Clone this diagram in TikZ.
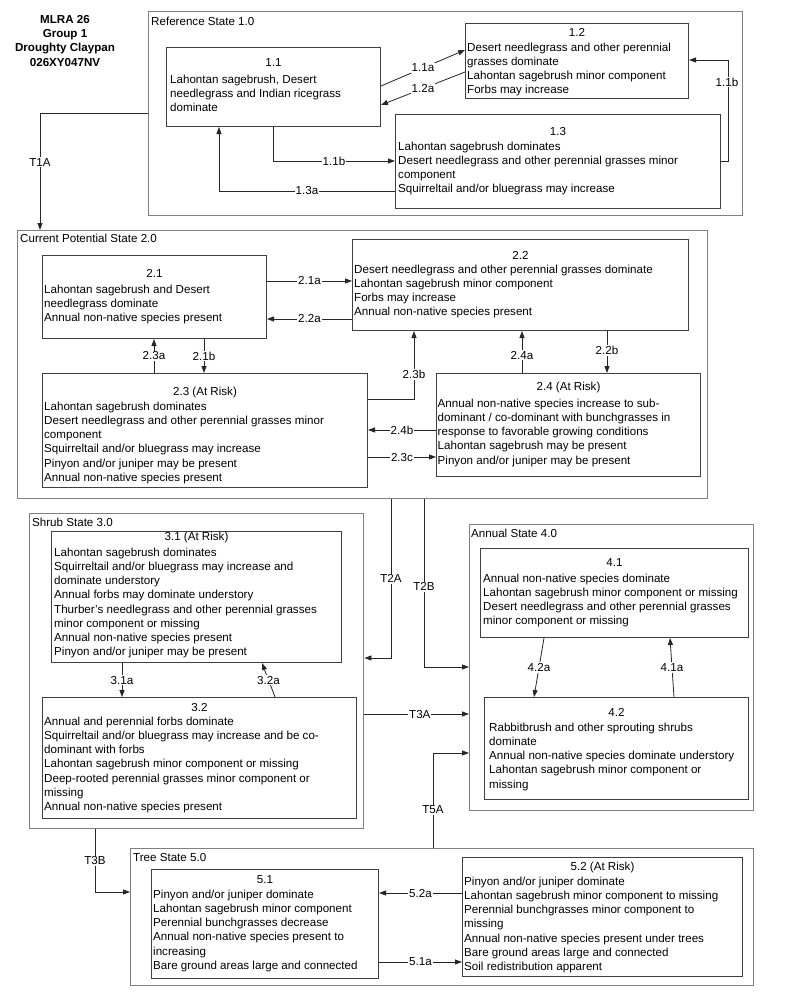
\documentclass[tikz,border=0pt]{standalone}
\usepackage{fontspec}
\setmainfont{Liberation Sans}
\usetikzlibrary{arrows.meta,calc}
\newcommand\sbx[5]{\node[sbox, minimum width={#4-#2}, minimum height={#5-#3}] (#1) at (#2,#3) {};}
\newcommand\obx[5]{\node[obox, minimum width={#4-#2}, minimum height={#5-#3}] (#1) at (#2,#3) {};}
\begin{document}
\begin{tikzpicture}[x=1pt,y=-1pt,
  font=\fontsize{11.6}{14.2}\selectfont,
  obox/.style={draw=black!50, line width=1.4pt, anchor=north west, inner sep=0pt},
  sbox/.style={draw=black!75, line width=1pt, anchor=north west, inner sep=0pt},
  ttl/.style={inner sep=0pt, anchor=center},
  body/.style={inner sep=0pt, anchor=north west, align=left},
  stl/.style={inner sep=0pt, anchor=base west},
  lbl/.style={fill=white, inner sep=1pt},
  arr/.style={draw=black!85, line width=0.8pt, -{Triangle[length=7pt,width=5pt]}},
  ln/.style={draw=black!85, line width=0.8pt}]
\useasboundingbox[fill=white] (0,0) rectangle (800,1002);

% heading
\node[inner sep=0pt, align=center, font=\fontsize{11.6}{14.3}\selectfont\bfseries, anchor=north] (head) at (65,15) {MLRA 26\\Group 1\\Droughty Claypan\\026XY047NV};

% outer state boxes
\obx{o1}{148}{11}{742}{215}
\obx{o2}{17}{230}{707}{498}
\obx{o3}{29}{513}{363}{828}
\obx{o4}{469}{524}{753}{810}
\obx{o5}{130}{848}{753}{985}
\node[stl] (o1l) at (151,25) {Reference State 1.0};
\node[stl] (o2l) at (20,242) {Current Potential State 2.0};
\node[stl] (o3l) at (32,526) {Shrub State 3.0};
\node[stl] (o4l) at (471,537) {Annual State 4.0};
\node[stl] (o5l) at (133,861) {Tree State 5.0};

% state 1
\sbx{b11}{166}{47}{380}{126}
\node[ttl] (b11t) at (b11.north |- 0,63) {1.1};
\node[body] (b11b) at (170,74.7) {Lahontan sagebrush, Desert\\needlegrass and Indian ricegrass\\dominate};
\sbx{b12}{465}{23}{688}{98}
\node[ttl] (b12t) at (b12.north |- 0,32) {1.2};
\node[body] (b12b) at (467,42.7) {Desert needlegrass and other perennial\\grasses dominate\\Lahontan sagebrush minor component\\Forbs may increase};
\sbx{b13}{395}{114}{720}{208}
\node[ttl] (b13t) at (b13.north |- 0,132) {1.3};
\node[body] (b13b) at (398,141.7) {Lahontan sagebrush dominates\\Desert needlegrass and other perennial grasses minor\\component\\Squirreltail and/or bluegrass may increase};

% state 2
\sbx{b21}{42}{255}{266}{338}
\node[ttl] (b21t) at (b21.north |- 0,273) {2.1};
\node[body] (b21b) at (44,284.7) {Lahontan sagebrush and Desert\\needlegrass dominate\\Annual non-native species present};
\sbx{b22}{352}{239}{688}{330}
\node[ttl] (b22t) at (b22.north |- 0,255) {2.2};
\node[body] (b22b) at (354,264.7) {Desert needlegrass and other perennial grasses dominate\\Lahontan sagebrush minor component\\Forbs may increase\\Annual non-native species present};
\sbx{b23}{42}{373}{367}{487}
\node[ttl] (b23t) at (b23.north |- 0,392) {2.3 (At Risk)};
\node[body] (b23b) at (44,401.7) {Lahontan sagebrush dominates\\Desert needlegrass and other perennial grasses minor\\component\\Squirreltail and/or bluegrass may increase\\Pinyon and/or juniper may be present\\Annual non-native species present};
\sbx{b24}{436}{373}{700}{476}
\node[ttl] (b24t) at (b24.north |- 0,387) {2.4 (At Risk)};
\node[body] (b24b) at (437.5,398.7) {Annual non-native species increase to sub-\\dominant / co-dominant with bunchgrasses in\\response to favorable growing conditions\\Lahontan sagebrush may be present\\Pinyon and/or juniper may be present};

% state 3
\sbx{b31}{51}{531}{341}{662}
\node[ttl] (b31t) at (b31.north |- 0,537) {3.1 (At Risk)};
\node[body] (b31b) at (54,547.7) {Lahontan sagebrush dominates\\Squirreltail and/or bluegrass may increase and\\dominate understory\\Annual forbs may dominate understory\\Thurber's needlegrass and other perennial grasses\\minor component or missing\\Annual non-native species present\\Pinyon and/or juniper may be present};
\sbx{b32}{42}{697}{356}{818}
\node[ttl] (b32t) at (b32.north |- 0,707) {3.2};
\node[body] (b32b) at (44,716.7) {Annual and perennial forbs dominate\\Squirreltail and/or bluegrass may increase and be co-\\dominant with forbs\\Lahontan sagebrush minor component or missing\\Deep-rooted perennial grasses minor component or\\missing\\Annual non-native species present};

% state 4
\sbx{b41}{480}{548}{748}{637}
\node[ttl] (b41t) at (b41.north |- 0,563) {4.1};
\node[body] (b41b) at (483,573.7) {Annual non-native species dominate\\Lahontan sagebrush minor component or missing\\Desert needlegrass and other perennial grasses\\minor component or missing};
\sbx{b42}{484}{697}{748}{799}
\node[ttl] (b42t) at (b42.north |- 0,712) {4.2};
\node[body] (b42b) at (489,722.7) {Rabbitbrush and other sprouting shrubs\\dominate\\Annual non-native species dominate understory\\Lahontan sagebrush minor component or\\missing};

% state 5
\sbx{b51}{151}{869}{378}{978}
\node[ttl] (b51t) at (b51.north |- 0,880) {5.1};
\node[body] (b51b) at (153,889.7) {Pinyon and/or juniper dominate\\Lahontan sagebrush minor component\\Perennial bunchgrasses decrease\\Annual non-native species present to\\increasing\\Bare ground areas large and connected};
\sbx{b52}{462}{857}{742}{976}
\node[ttl] (b52t) at (b52.north |- 0,867) {5.2 (At Risk)};
\node[body] (b52b) at (464,876.7) {Pinyon and/or juniper dominate\\Lahontan sagebrush minor component to missing\\Perennial bunchgrasses minor component to\\missing\\Annual non-native species present under trees\\Bare ground areas large and connected\\Soil redistribution apparent};

% connectors within state 1
\draw[arr] (b11.east |- 0,86) -- node[lbl]{1.1a} (b12.west |- 0,50);
\draw[arr] (b12.west |- 0,72) -- node[lbl]{1.2a} (b11.east |- 0,105);
\draw[arr] (b11.south -| 273,0) |- node[lbl,pos=0.75]{1.1b} (b13.west |- 0,161);
\draw[arr] (b13.west |- 0,191) -| node[lbl,pos=0.25]{1.3a} (b11.south -| 219,0);
\coordinate (c11b) at (728,0);
\draw[arr] (b13.east |- 0,161) -| (c11b |- 0,60) -- (b12.east |- 0,60);
\node[lbl] (l11b) at (727,82) {1.1b};

% state 2
\draw[arr] (b21.east |- 0,281) -- node[lbl]{2.1a} (b22.west |- 0,281);
\draw[arr] (b22.west |- 0,319) -- node[lbl]{2.2a} (b21.east |- 0,319);
\draw[arr] (b23.north -| 154,0) -- node[lbl]{2.3a} (b21.south -| 154,0);
\draw[arr] (b21.south -| 204,0) -- node[lbl]{2.1b} (b23.north -| 204,0);
\draw[arr] (b23.east |- 0,399) -| node[lbl,pos=0.68]{2.3b} (b22.south -| 414,0);
\draw[arr] (b24.north -| 522,0) -- node[lbl,pos=0.42]{2.4a} (b22.south -| 522,0);
\draw[arr] (b22.south -| 607,0) -- node[lbl,pos=0.47]{2.2b} (b24.north -| 607,0);
\draw[arr] (b24.west |- 0,430) -- node[lbl]{2.4b} (b23.east |- 0,430);
\draw[arr] (b23.east |- 0,457) -- node[lbl]{2.3c} (b24.west |- 0,457);

% state 3
\draw[arr] (b31.south -| 122,0) -- node[lbl]{3.1a} (b32.north -| 122,0);
\draw[arr] (b32.north -| 275,0) -- node[lbl]{3.2a} (b31.south -| 262,0);

% state 4
\draw[arr] (b41.south -| 544,0) -- node[lbl]{4.2a} (b42.north -| 534,0);
\draw[arr] (b42.north -| 674,0) -- node[lbl]{4.1a} (b41.south -| 670,0);

% state 5
\draw[arr] (b52.west |- 0,893) -- node[lbl]{5.2a} (b51.east |- 0,893);
\draw[arr] (b51.east |- 0,962) -- node[lbl]{5.1a} (b52.west |- 0,962);

% transitions
\draw[arr] (o1.west |- 0,113) -| node[lbl,pos=0.71]{T1A} (o2.north -| 40,0);
\draw[arr] (o2.south -| 391,0) |- node[lbl,pos=0.25]{T2A} (o3.east |- 0,658);
\draw[arr] (o2.south -| 424,0) |- node[lbl,pos=0.26]{T2B} (o4.west |- 0,667);
\draw[arr] (o3.east |- 0,714) -- node[lbl,pos=0.53]{T3A} (o4.west |- 0,714);
\draw[arr] (o3.south -| 95,0) |- node[lbl,pos=0.25]{T3B} (o5.west |- 0,892);
\draw[arr] (o5.north -| 433,0) |- node[lbl,pos=0.2]{T5A} (o4.west |- 0,753);
\end{tikzpicture}
\end{document}
